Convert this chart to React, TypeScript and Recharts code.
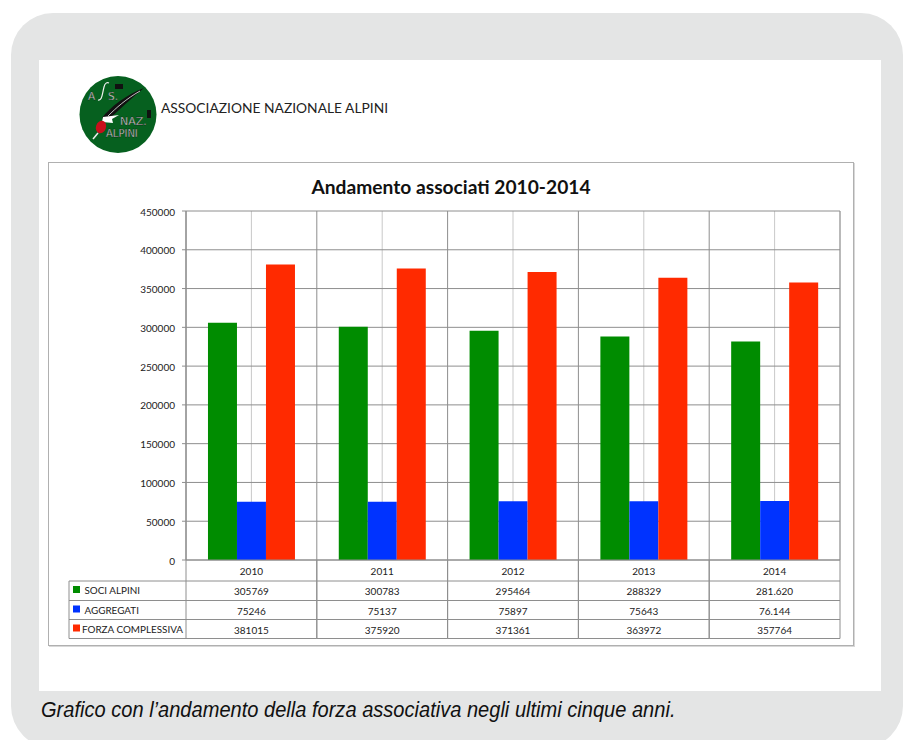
import React from "react";
import { ComposedChart, Bar, XAxis, YAxis, CartesianGrid } from "recharts";

const years = ["2010", "2011", "2012", "2013", "2014"];
const sociAlpini = [305769, 300783, 295464, 288329, 281620];
const aggregati = [75246, 75137, 75897, 75643, 76144];
const forzaComplessiva = [381015, 375920, 371361, 363972, 357764];
const sociLabels = ["305769", "300783", "295464", "288329", "281.620"];
const aggregatiLabels = ["75246", "75137", "75897", "75643", "76.144"];
const forzaLabels = ["381015", "375920", "371361", "363972", "357764"];
const yTicks = [0, 50000, 100000, 150000, 200000, 250000, 300000, 350000, 400000, 450000];
const seriesNames = ["SOCI ALPINI", "AGGREGATI", "FORZA COMPLESSIVA"];
const seriesColors = ["#008c00", "#0033ff", "#ff2a00"];

const rowLabels = [sociLabels, aggregatiLabels, forzaLabels];
const data = years.map((year, i) => ({
  year,
  soci: sociAlpini[i],
  aggregati: aggregati[i],
  forza: forzaComplessiva[i],
}));

const FONT = "Lato, 'Open Sans', sans-serif";
const PLOT_LEFT = 186;
const PLOT_RIGHT = 840;
const PLOT_TOP = 211;
const PLOT_BOTTOM = 560;
const CAT_W = (PLOT_RIGHT - PLOT_LEFT) / years.length;
const TABLE_LEFT = 69;
const ROW_Y = [PLOT_BOTTOM, 581, 600.5, 619.5, 638.5];
const LINE = "#8e8e8e";

function TableTick(props: any) {
  const { payload, index } = props;
  const cx = payload.coordinate;
  const left = cx - CAT_W / 2;
  const right = cx + CAT_W / 2;
  const textProps = { fontFamily: FONT, fontSize: 10, fill: "#222", textAnchor: "middle" as const };
  return (
    <g>
      <line x1={left} x2={left} y1={ROW_Y[0]} y2={ROW_Y[4]} stroke={LINE} strokeWidth={1} />
      <line x1={right} x2={right} y1={ROW_Y[0]} y2={ROW_Y[4]} stroke={LINE} strokeWidth={1} />
      {ROW_Y.slice(1).map((y) => (
        <line key={y} x1={left} x2={right} y1={y} y2={y} stroke={LINE} strokeWidth={1} />
      ))}
      <text x={cx} y={575} {...textProps}>{payload.value}</text>
      {rowLabels.map((r, i) => (
        <text key={i} x={cx} y={ROW_Y[i + 1] + 14} {...textProps}>{r[index]}</text>
      ))}
      {index === 0 && (
        <g>
          {ROW_Y.slice(1).map((y) => (
            <line key={y} x1={TABLE_LEFT} x2={left} y1={y} y2={y} stroke={LINE} />
          ))}
          <line x1={TABLE_LEFT} x2={TABLE_LEFT} y1={ROW_Y[1]} y2={ROW_Y[4]} stroke={LINE} />
          {seriesNames.map((name, i) => (
            <g key={name}>
              <rect x={73} y={ROW_Y[i + 1] + 5} width={7} height={7} fill={seriesColors[i]} />
              <text
                x={i === 2 ? 82 : 84.5}
                y={ROW_Y[i + 1] + 13}
                fontFamily={FONT}
                fontSize={9.9}
                fill="#222"
                textAnchor="start"
              >
                {name}
              </text>
            </g>
          ))}
        </g>
      )}
    </g>
  );
}

function Logo() {
  return (
    <svg
      width={80}
      height={80}
      viewBox="0 0 80 80"
      style={{ position: "absolute", left: 78, top: 75 }}
    >
      <circle cx={40} cy={39.5} r={38.5} fill="#06601f" />
      <path d="M66 13 C48 20 32 32 24 43 L29 46 C40 36 52 24 66 13 Z" fill="#111" />
      <path d="M62 16 C48 24 38 33 30 41" stroke="#eee" strokeWidth={0.8} fill="none" />
      <path d="M25 42 L41 40 L34 44 L35 48 L24 47 Z" fill="#fff" />
      <ellipse cx={23} cy={52} rx={5} ry={6.5} fill="#c8101c" transform="rotate(20 23 52)" />
      <path d="M20 58 L15 64" stroke="#eee" strokeWidth={1.5} />
      <g fontFamily="'DejaVu Sans', sans-serif" fill="#eee" stroke="#111" strokeWidth={0.35} fontSize={10.5}>
        <text x={10} y={25}>A</text>
        <text x={30} y={25}>S.</text>
        <text x={42} y={49.5} fontSize={11}>NAZ.</text>
        <text x={28} y={62} fontSize={10}>ALPINI</text>
      </g>
      <path d="M20 25 C24 26 24 20 26 12 C27 8 29 7 31 8" stroke="#eee" strokeWidth={1.2} fill="none" />
      <rect x={37} y={9} width={8} height={5} fill="#111" />
      <rect x={69} y={35} width={4} height={8} fill="#111" />
    </svg>
  );
}

const boundaries = ({ offset }: any) =>
  Array.from({ length: years.length + 1 }, (_, i) => offset.left + (i * offset.width) / years.length);

export default function App() {
  return (
    <div style={{ position: "absolute", left: 0, top: 0, width: 903, height: 740, overflow: "hidden", background: "#fff" }}>
      <div style={{ position: "absolute", left: 11, top: 13, width: 892, height: 735, borderRadius: 42, background: "#e4e5e5" }} />
      <div style={{ position: "absolute", left: 39, top: 60, width: 842, height: 631, background: "#fff" }} />
      <div
        style={{
          position: "absolute",
          left: 48,
          top: 162,
          width: 804,
          height: 482,
          border: "1px solid #b0b0b0",
          boxShadow: "1px 1px 0 #d8d8d8",
          background: "#fff",
        }}
      />
      <Logo />
      <div
        style={{
          position: "absolute",
          left: 161,
          top: 99,
          fontFamily: "Lato, sans-serif",
          fontSize: 13.8,
          lineHeight: "18px",
          color: "#222",
          whiteSpace: "nowrap",
        }}
      >
        ASSOCIAZIONE NAZIONALE ALPINI
      </div>
      <div
        style={{
          position: "absolute",
          left: 41,
          top: 697,
          fontFamily: "'Liberation Sans', sans-serif",
          fontStyle: "italic",
          fontSize: 21.5,
          lineHeight: "26px",
          color: "#111",
          whiteSpace: "nowrap",
          transform: "scaleX(0.933)",
          transformOrigin: "left center",
        }}
      >
        Grafico con l’andamento della forza associativa negli ultimi cinque anni.
      </div>
      <div style={{ position: "absolute", left: 0, top: 0 }}>
        <ComposedChart
          width={903}
          height={740}
          data={data}
          margin={{ top: PLOT_TOP, left: PLOT_LEFT - 60, right: 903 - PLOT_RIGHT, bottom: 740 - PLOT_BOTTOM - 79 }}
          barCategoryGap="16.8%"
          barGap={0}
        >
          <text x={451} y={194} textAnchor="middle" fontFamily={FONT} fontWeight={700} fontSize={19.2} fill="#111">
            Andamento associati 2010-2014
          </text>
          <CartesianGrid stroke="#c9c9c9" horizontal={false} vertical />
          <CartesianGrid stroke={LINE} vertical horizontal verticalCoordinatesGenerator={boundaries} />
          <XAxis
            dataKey="year"
            height={79}
            interval={0}
            tickLine={false}
            axisLine={{ stroke: LINE }}
            tick={<TableTick />}
          />
          <YAxis
            width={60}
            domain={[0, 450000]}
            ticks={yTicks}
            interval={0}
            axisLine={{ stroke: LINE }}
            tickLine={{ stroke: LINE }}
            tickSize={4}
            tickMargin={7}
            tick={{ fontFamily: FONT, fontSize: 10, fill: "#222", dy: 1 }}
          />
          <Bar dataKey="soci" fill={seriesColors[0]} isAnimationActive={false} />
          <Bar dataKey="aggregati" fill={seriesColors[1]} isAnimationActive={false} />
          <Bar dataKey="forza" fill={seriesColors[2]} isAnimationActive={false} />
        </ComposedChart>
      </div>
    </div>
  );
}
